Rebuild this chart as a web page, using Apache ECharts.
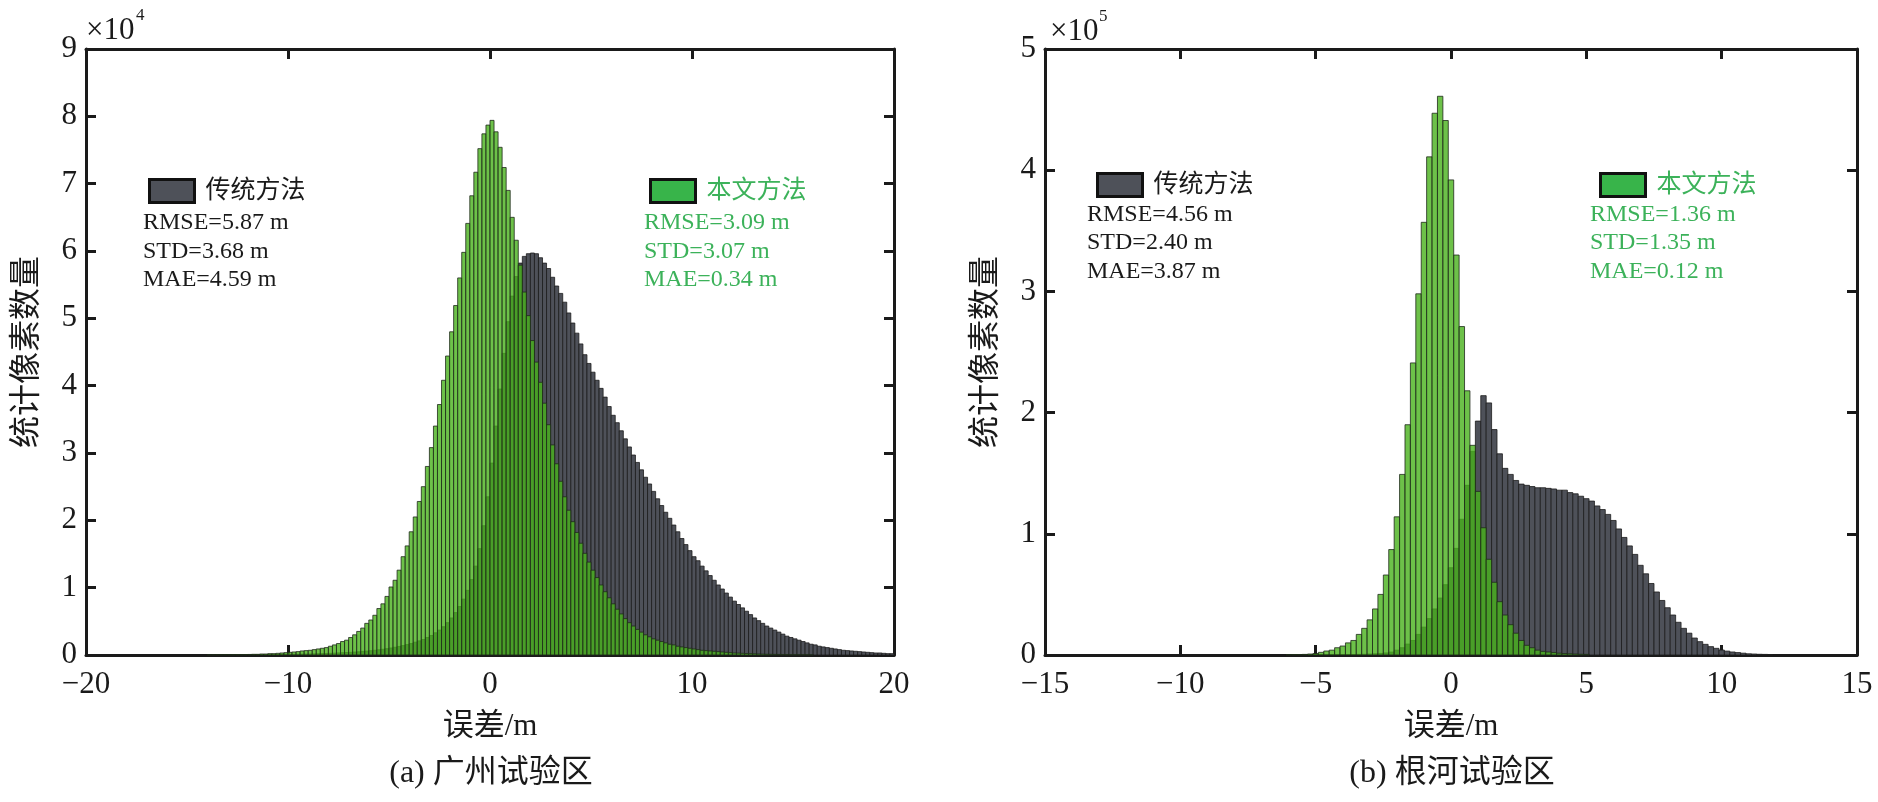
<!DOCTYPE html>
<html>
<head>
<meta charset="utf-8">
<title>误差分布直方图</title>
<script src="https://cdn.jsdelivr.net/npm/echarts@6/dist/echarts.min.js"></script>
<style>
  html, body { margin: 0; padding: 0; background: #fff; }
  #chart { width: 1878px; height: 802px; }
</style>
</head>
<body>
<div id="chart"></div>
<script>
// =============================== //
// Error histograms, two test areas
// =============================== //

// Bin width of every histogram (m)
const binWidth = 0.2;

// (a) Guangzhou, counts in units of 1e4, first bin starts at gzTradStart / gzOursStart
const gzTradStart = -12.0;
const gzTrad = [
  0.003, 0.003, 0.004, 0.004, 0.005, 0.005, 0.006, 0.007, 0.008, 0.009,
  0.010, 0.011, 0.012, 0.013, 0.014, 0.015, 0.017, 0.019, 0.021, 0.023,
  0.025, 0.028, 0.031, 0.034, 0.037, 0.040, 0.044, 0.048, 0.053, 0.058,
  0.064, 0.070, 0.077, 0.085, 0.094, 0.104, 0.115, 0.127, 0.140, 0.155,
  0.17, 0.19, 0.21, 0.23, 0.26, 0.29, 0.33, 0.37, 0.42, 0.48,
  0.55, 0.63, 0.72, 0.83, 0.96, 1.12, 1.32, 1.58, 1.92, 2.35,
  2.85, 3.40, 3.95, 4.48, 4.95, 5.33, 5.62, 5.82, 5.92, 5.96,
  5.97, 5.96, 5.90, 5.82, 5.74, 5.61, 5.48, 5.37, 5.24, 5.08,
  4.93, 4.78, 4.62, 4.46, 4.33, 4.20, 4.08, 3.96, 3.83, 3.69,
  3.56, 3.45, 3.33, 3.21, 3.09, 2.97, 2.86, 2.75, 2.64, 2.54,
  2.43, 2.32, 2.22, 2.12, 2.03, 1.93, 1.83, 1.73, 1.64, 1.55,
  1.46, 1.40, 1.32, 1.25, 1.18, 1.11, 1.04, 0.98, 0.92, 0.86,
  0.80, 0.75, 0.70, 0.65, 0.60, 0.55, 0.51, 0.47, 0.43, 0.40,
  0.37, 0.34, 0.31, 0.28, 0.26, 0.24, 0.22, 0.20, 0.18, 0.16,
  0.15, 0.13, 0.12, 0.11, 0.10, 0.09, 0.08, 0.07, 0.065, 0.06,
  0.055, 0.05, 0.045, 0.04, 0.035, 0.03, 0.03, 0.025, 0.02, 0.02
];
const gzOursStart = -14.0;
const gzOurs = [
  0.002, 0.002, 0.002, 0.003, 0.003, 0.003, 0.004, 0.004, 0.005, 0.006,
  0.008, 0.010, 0.010, 0.015, 0.015, 0.020, 0.020, 0.025, 0.030, 0.035,
  0.040, 0.045, 0.050, 0.060, 0.065, 0.070, 0.080, 0.090, 0.100, 0.110,
  0.13, 0.15, 0.17, 0.20, 0.22, 0.26, 0.30, 0.35, 0.40, 0.47,
  0.52, 0.59, 0.69, 0.76, 0.87, 1.01, 1.11, 1.26, 1.46, 1.62,
  1.83, 2.05, 2.28, 2.50, 2.80, 3.08, 3.40, 3.72, 4.08, 4.44,
  4.80, 5.19, 5.60, 5.98, 6.41, 6.82, 7.17, 7.52, 7.74, 7.87,
  7.94, 7.77, 7.54, 7.24, 6.90, 6.50, 6.16, 5.79, 5.39, 5.04,
  4.67, 4.35, 4.05, 3.74, 3.42, 3.12, 2.84, 2.58, 2.35, 2.15,
  1.98, 1.82, 1.66, 1.51, 1.38, 1.26, 1.15, 1.04, 0.94, 0.85,
  0.76, 0.68, 0.61, 0.54, 0.48, 0.43, 0.38, 0.34, 0.30, 0.27,
  0.24, 0.22, 0.20, 0.18, 0.16, 0.15, 0.13, 0.12, 0.11, 0.10,
  0.09, 0.08, 0.07, 0.065, 0.06, 0.055, 0.05, 0.045, 0.04, 0.035,
  0.03, 0.028, 0.025, 0.022, 0.02, 0.018, 0.015, 0.013, 0.011, 0.01,
  0.009, 0.008, 0.007, 0.006, 0.005, 0.004, 0.004, 0.003, 0.003, 0.002
];

// (b) Genhe, counts in units of 1e5
const ghTradStart = -4.1;
const ghTrad = [
  0.002, 0.003, 0.004, 0.005, 0.006, 0.008, 0.010, 0.013, 0.017, 0.024,
  0.04, 0.06, 0.09, 0.12, 0.17, 0.23, 0.30, 0.38, 0.47, 0.58,
  0.72, 0.88, 1.12, 1.40, 1.68, 1.93, 2.14, 2.08, 1.86, 1.66,
  1.54, 1.49, 1.44, 1.41, 1.40, 1.39, 1.38, 1.38, 1.375, 1.37,
  1.36, 1.36, 1.34, 1.33, 1.31, 1.29, 1.27, 1.23, 1.20, 1.16,
  1.11, 1.04, 0.97, 0.90, 0.83, 0.74, 0.67, 0.59, 0.52, 0.45,
  0.39, 0.33, 0.27, 0.22, 0.18, 0.14, 0.11, 0.088, 0.069, 0.055,
  0.041, 0.032, 0.025, 0.020, 0.015, 0.010, 0.008, 0.006, 0.005, 0.004
];
const ghOursStart = -6.1;
const ghOurs = [
  0.002, 0.003, 0.004, 0.005, 0.008, 0.012, 0.022, 0.033, 0.040, 0.060,
  0.074, 0.10, 0.12, 0.17, 0.22, 0.29, 0.38, 0.50, 0.66, 0.87,
  1.14, 1.49, 1.90, 2.41, 2.98, 3.57, 4.11, 4.47, 4.61, 4.41,
  3.92, 3.30, 2.71, 2.18, 1.73, 1.35, 1.05, 0.79, 0.60, 0.44,
  0.33, 0.25, 0.18, 0.12, 0.08, 0.06, 0.04, 0.03, 0.025, 0.02,
  0.015, 0.012, 0.010, 0.008, 0.006, 0.005
];

// Labels and statistics
const methodNames = ['传统方法', '本文方法'];
const gzTradStats = ['RMSE=5.87 m', 'STD=3.68 m', 'MAE=4.59 m'];
const gzOursStats = ['RMSE=3.09 m', 'STD=3.07 m', 'MAE=0.34 m'];
const ghTradStats = ['RMSE=4.56 m', 'STD=2.40 m', 'MAE=3.87 m'];
const ghOursStats = ['RMSE=1.36 m', 'STD=1.35 m', 'MAE=0.12 m'];
const panelTitles = ['(a) 广州试验区', '(b) 根河试验区'];
const xName = '误差/m';
const yName = '统计像素数量';
const yExponents = ['4', '5'];

// ---- styles ----
const FONT = '"Liberation Serif", "Noto Sans CJK SC", serif';
const INK = '#1a1a1a';
const GREEN_TEXT = '#3cb25a';
const TRAD_FILL = '#4e5159';
const OURS_FILL = 'rgba(72,178,28,0.8)';

// Turn a start + counts list into [x0, x1, count] bins
function toBins (start, counts) {
    return counts.map((c, i) => [start + i * binWidth, start + (i + 1) * binWidth, c]);
}

// Draw one bin as a rect through the axes
function binRenderer (fill, stroke) {
    return function (params, api) {
        const top = api.coord([api.value(0), api.value(2)]);
        const base = api.coord([api.value(1), 0]);
        return {
            type: 'rect',
            shape: { x: top[0], y: top[1], width: base[0] - top[0], height: base[1] - top[1] },
            style: { fill: fill, stroke: stroke, lineWidth: 0.8 }
        };
    };
}

const minusFmt = v => (v < 0 ? '\u2212' + Math.abs(v) : String(v));

const boxLine = { show: true, onZero: false, lineStyle: { color: INK, width: 3 } };
const boxTick = { show: true, inside: true, length: 10, lineStyle: { color: INK, width: 3 } };

function xAxes (grid, min, max, step) {
    return [
        {
            type: 'value', gridIndex: grid, position: 'bottom', min: min, max: max, interval: step,
            axisLine: boxLine, axisTick: boxTick, splitLine: { show: false },
            axisLabel: { margin: 14, fontSize: 31, fontFamily: FONT, color: INK, formatter: minusFmt },
            name: xName, nameLocation: 'middle', nameGap: 56,
            nameTextStyle: { fontSize: 31, fontFamily: FONT, color: INK }
        },
        {
            type: 'value', gridIndex: grid, position: 'top', min: min, max: max, interval: step,
            axisLine: boxLine, axisTick: boxTick, splitLine: { show: false }, axisLabel: { show: false }
        }
    ];
}

function yAxes (grid, max) {
    return [
        {
            type: 'value', gridIndex: grid, position: 'left', min: 0, max: max, interval: 1,
            axisLine: boxLine, axisTick: boxTick, splitLine: { show: false },
            axisLabel: { margin: 9, fontSize: 31, fontFamily: FONT, color: INK },
            name: yName, nameLocation: 'middle', nameGap: 42, nameRotate: 90,
            nameTextStyle: { fontSize: 32, fontFamily: FONT, color: INK }
        },
        {
            type: 'value', gridIndex: grid, position: 'right', min: 0, max: max, interval: 1,
            axisLine: boxLine, axisTick: boxTick, splitLine: { show: false }, axisLabel: { show: false }
        }
    ];
}

function legendAt (name, left, top, fill, textColor) {
    return {
        data: [{ name: name, icon: 'rect', itemStyle: { color: fill, borderColor: '#111', borderWidth: 3 } }],
        left: left, top: top, itemWidth: 45, itemHeight: 23, selectedMode: false,
        textStyle: { fontSize: 25, fontFamily: FONT, color: textColor, lineHeight: 23, padding: [0, 0, 0, 6] }
    };
}

function text (str, x, y, size, color, align) {
    return {
        type: 'text', x: x, y: y, silent: true,
        style: {
            text: str, fill: color, font: size + 'px ' + FONT,
            textAlign: align || 'left', align: align || 'left',
            textVerticalAlign: 'middle', verticalAlign: 'middle'
        }
    };
}

function statsBlock (lines, x, ys, color) {
    return lines.map((s, i) => text(s, x, ys[i], 24, color));
}

const chart = echarts.init(document.getElementById('chart'), null, { renderer: 'canvas' });

const option = {
    backgroundColor: '#fff',
    animation: false,
    grid: [
        { left: 86, top: 49, width: 808, height: 606 },
        { left: 1045, top: 49, width: 812, height: 606 }
    ],
    xAxis: [].concat(xAxes(0, -20, 20, 10), xAxes(1, -15, 15, 5)),
    yAxis: [].concat(yAxes(0, 9), yAxes(1, 5)),
    legend: [
        legendAt(methodNames[0], 143, 173, TRAD_FILL, INK),
        legendAt(methodNames[1], 644, 173, '#38b44a', GREEN_TEXT),
        legendAt(methodNames[0], 1091, 167, TRAD_FILL, INK),
        legendAt(methodNames[1], 1594, 167, '#38b44a', GREEN_TEXT)
    ],
    series: [
        {
            name: methodNames[0], type: 'custom', xAxisIndex: 0, yAxisIndex: 0,
            renderItem: binRenderer(TRAD_FILL, '#1c1c1c'), encode: { x: [0, 1], y: 2 },
            data: toBins(gzTradStart, gzTrad), itemStyle: { color: TRAD_FILL }
        },
        {
            name: methodNames[1], type: 'custom', xAxisIndex: 0, yAxisIndex: 0,
            renderItem: binRenderer(OURS_FILL, '#1f2a1c'), encode: { x: [0, 1], y: 2 },
            data: toBins(gzOursStart, gzOurs), itemStyle: { color: '#38b44a' }
        },
        {
            name: methodNames[0], type: 'custom', xAxisIndex: 2, yAxisIndex: 2,
            renderItem: binRenderer(TRAD_FILL, '#1c1c1c'), encode: { x: [0, 1], y: 2 },
            data: toBins(ghTradStart, ghTrad), itemStyle: { color: TRAD_FILL }
        },
        {
            name: methodNames[1], type: 'custom', xAxisIndex: 2, yAxisIndex: 2,
            renderItem: binRenderer(OURS_FILL, '#1f2a1c'), encode: { x: [0, 1], y: 2 },
            data: toBins(ghOursStart, ghOurs), itemStyle: { color: '#38b44a' }
        }
    ],
    graphic: [].concat(
        statsBlock(gzTradStats, 143, [223, 252, 280], INK),
        statsBlock(gzOursStats, 644, [223, 252, 280], GREEN_TEXT),
        statsBlock(ghTradStats, 1087, [215, 243, 272], INK),
        statsBlock(ghOursStats, 1590, [215, 243, 272], GREEN_TEXT),
        [
            text('\u00d710', 86, 31, 31, INK),
            text(yExponents[0], 136, 16, 17, INK),
            text('\u00d710', 1050, 32, 31, INK),
            text(yExponents[1], 1099, 17, 17, INK),
            text(panelTitles[0], 491, 774, 32, INK, 'center'),
            text(panelTitles[1], 1452, 774, 32, INK, 'center')
        ]
    )
};

chart.setOption(option);
</script>
</body>
</html>
